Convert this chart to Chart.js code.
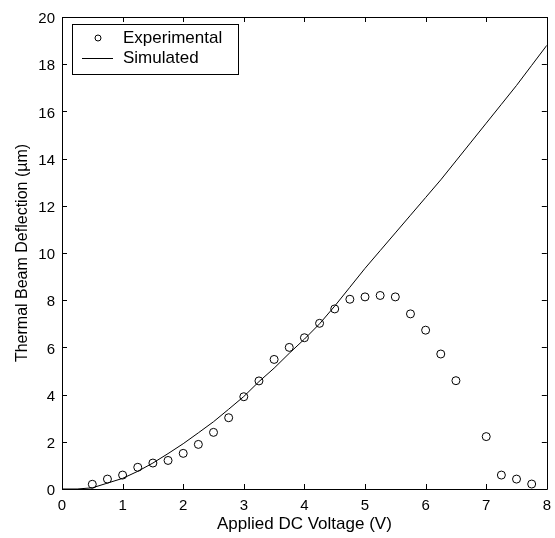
<!DOCTYPE html>
<html>
<head>
<meta charset="utf-8">
<script src="https://cdn.jsdelivr.net/npm/chart.js@4/dist/chart.umd.min.js"></script>
<style>
  html, body { margin: 0; padding: 0; background: #fff; }
  #wrap { width: 555px; height: 538px; }
</style>
</head>
<body>
<div id="wrap"><canvas id="c" width="555" height="538"></canvas></div>
<script>
// ---- data ----
const expVoltage = [0.5, 0.75, 1.0, 1.25, 1.5, 1.75, 2.0, 2.25, 2.5, 2.75, 3.0, 3.25, 3.5, 3.75, 4.0, 4.25, 4.5, 4.75, 5.0, 5.25, 5.5, 5.75, 6.0, 6.25, 6.5, 7.0, 7.25, 7.5, 7.75];
const expDeflection = [0.2, 0.42, 0.59, 0.92, 1.1, 1.21, 1.51, 1.89, 2.4, 3.02, 3.91, 4.58, 5.49, 6.0, 6.41, 7.02, 7.63, 8.04, 8.14, 8.2, 8.14, 7.42, 6.73, 5.72, 4.59, 2.22, 0.59, 0.42, 0.21];
const simVoltage = [0, 0.25, 0.5, 0.75, 1.0, 1.25, 1.5, 1.75, 2.0, 2.25, 2.5, 2.75, 3.0, 3.25, 3.5, 3.75, 4.0, 4.25, 4.5, 4.75, 5.0, 5.25, 5.5, 5.75, 6.0, 6.25, 6.5, 6.75, 7.0, 7.25, 7.5, 7.75, 8.0];
const simDeflection = [0, 0, 0.05, 0.25, 0.45, 0.75, 1.1, 1.5, 1.92, 2.38, 2.85, 3.38, 3.92, 4.55, 5.12, 5.75, 6.35, 7.0, 7.75, 8.55, 9.35, 10.1, 10.85, 11.6, 12.35, 13.1, 13.9, 14.7, 15.5, 16.3, 17.1, 17.95, 18.8];
const xTicks = [0, 1, 2, 3, 4, 5, 6, 7, 8];
const yTicks = [0, 2, 4, 6, 8, 10, 12, 14, 16, 18, 20];
const seriesNames = ["Experimental", "Simulated"];
const xTitle = "Applied DC Voltage (V)";
const yTitle = "Thermal Beam Deflection (\u00B5m)";

const FONT = "'Liberation Sans', Arial, Helvetica, sans-serif";

const framePlugin = {
  id: 'frameTicks',
  afterDraw(chart) {
    const ctx = chart.ctx;
    const a = chart.chartArea;
    const xs = chart.scales.x, ys = chart.scales.y;
    const L = 5;
    ctx.save();
    ctx.strokeStyle = '#000';
    ctx.lineWidth = 1;
    ctx.beginPath();
    ctx.rect(Math.round(a.left) + 0.5, Math.round(a.top) + 0.5, Math.round(a.right - a.left), Math.round(a.bottom - a.top));
    ctx.stroke();
    ctx.beginPath();
    xTicks.forEach(v => {
      const px = Math.round(xs.getPixelForValue(v)) + 0.5;
      ctx.moveTo(px, a.bottom); ctx.lineTo(px, a.bottom - L);
      ctx.moveTo(px, a.top); ctx.lineTo(px, a.top + L);
    });
    yTicks.forEach(v => {
      const py = Math.round(ys.getPixelForValue(v)) + 0.5;
      ctx.moveTo(a.left, py); ctx.lineTo(a.left + L, py);
      ctx.moveTo(a.right, py); ctx.lineTo(a.right - L, py);
    });
    ctx.stroke();

    // legend box
    const bx = a.left + 10, by = a.top + 7, bw = 166, bh = 50;
    ctx.fillStyle = '#fff';
    ctx.fillRect(bx, by, bw, bh);
    ctx.strokeRect(bx + 0.5, by + 0.5, bw, bh);
    ctx.font = '17px ' + FONT;
    ctx.fillStyle = '#000';
    ctx.textBaseline = 'middle';
    ctx.textAlign = 'left';
    ctx.beginPath();
    ctx.arc(bx + 26, by + 14, 3, 0, Math.PI * 2);
    ctx.stroke();
    ctx.fillText(chart.data.datasets[0].label, bx + 51, by + 14);
    ctx.beginPath();
    ctx.moveTo(bx + 10, by + 34.5); ctx.lineTo(bx + 41, by + 34.5);
    ctx.stroke();
    ctx.fillText(chart.data.datasets[1].label, bx + 51, by + 34);
    ctx.restore();
  }
};

new Chart(document.getElementById('c'), {
  type: 'scatter',
  data: {
    datasets: [
      {
        label: seriesNames[0],
        data: expVoltage.map((v, i) => ({ x: v, y: expDeflection[i] })),
        showLine: false,
        pointStyle: 'circle',
        pointRadius: 4,
        pointBorderWidth: 1,
        borderColor: '#000',
        backgroundColor: 'rgba(0,0,0,0)'
      },
      {
        label: seriesNames[1],
        data: simVoltage.map((v, i) => ({ x: v, y: simDeflection[i] })),
        showLine: true,
        pointRadius: 0,
        borderWidth: 1,
        borderColor: '#000',
        backgroundColor: '#000',
        tension: 0
      }
    ]
  },
  options: {
    responsive: false,
    animation: false,
    devicePixelRatio: 1,
    layout: { padding: { top: 17, right: 8, left: 0, bottom: 0 } },
    plugins: { legend: { display: false }, tooltip: { enabled: false } },
    scales: {
      x: {
        type: 'linear', min: 0, max: 8,
        afterBuildTicks: s => { s.ticks = xTicks.map(v => ({ value: v })); },
        afterFit: s => { s.height = 49; },
        grid: { display: true, drawOnChartArea: false, drawTicks: true, tickLength: 4, color: 'rgba(0,0,0,0)' },
        border: { display: false },
        ticks: { color: '#000', font: { family: FONT, size: 15 }, padding: 4, maxRotation: 0 },
        title: { display: true, text: xTitle, color: '#000', font: { family: FONT, size: 17 }, padding: { top: 0, bottom: 3 } }
      },
      y: {
        type: 'linear', min: 0, max: 20,
        afterBuildTicks: s => { s.ticks = yTicks.map(v => ({ value: v })); },
        afterFit: s => { s.width = 62; },
        grid: { display: true, drawOnChartArea: false, drawTicks: false },
        border: { display: false },
        ticks: { color: '#000', font: { family: FONT, size: 15 }, padding: 7, labelOffset: 2 },
        title: { display: true, text: yTitle, color: '#000', font: { family: FONT, size: 16 }, padding: { top: 13, bottom: 0 } }
      }
    }
  },
  plugins: [framePlugin]
});
</script>
</body>
</html>
